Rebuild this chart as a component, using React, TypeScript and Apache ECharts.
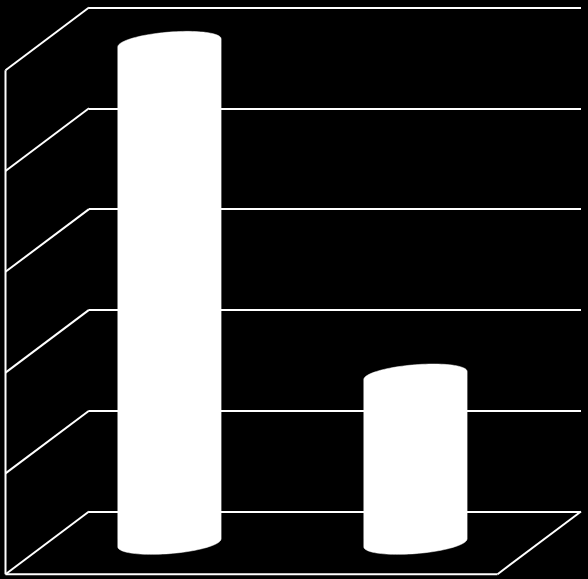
import React, { useEffect, useRef } from "react";
import * as echarts from "echarts";

const categories = ["A", "B"];
const values = [4.96, 1.66];
const axisMin = 0;
const axisMax = 5;
const axisStep = 1;
const wallTicks = [0, 1, 2, 3, 4, 5];

const WHITE = "#ffffff";
const DEPTH_X = -83.5;
const DEPTH_Y = 62.7;
const LINE_W = 2;

function ellipsePoints(cx: number, cy: number, a: number, A: number, B: number, from: number, to: number) {
  const pts: number[][] = [];
  const n = 48;
  for (let i = 0; i <= n; i++) {
    const t = from + ((to - from) * i) / n;
    pts.push([cx + a * Math.cos(t), cy - A * Math.cos(t) - B * Math.sin(t)]);
  }
  return pts;
}

const renderFrame = (params: any, api: any) => {
  const v = api.value(0);
  const cs = params.coordSys;
  const p = api.coord([0, v]);
  const x0 = cs.x;
  const children: any[] = [
    {
      type: "line",
      shape: { x1: x0, y1: p[1], x2: x0 + DEPTH_X, y2: p[1] + DEPTH_Y },
      style: { stroke: WHITE, lineWidth: LINE_W },
    },
  ];
  if (v === axisMin) {
    const xr = cs.x + cs.width;
    const fy = p[1] + DEPTH_Y;
    children.push(
      { type: "line", shape: { x1: xr, y1: p[1], x2: xr + DEPTH_X, y2: fy }, style: { stroke: WHITE, lineWidth: LINE_W } },
      { type: "line", shape: { x1: x0 + DEPTH_X, y1: fy, x2: xr + DEPTH_X, y2: fy }, style: { stroke: WHITE, lineWidth: LINE_W } },
      { type: "line", shape: { x1: x0 + DEPTH_X, y1: fy, x2: x0 + DEPTH_X, y2: cs.y + DEPTH_Y }, style: { stroke: WHITE, lineWidth: LINE_W } }
    );
  }
  return { type: "group", children };
};

const renderBar = (_params: any, api: any) => {
  const top = api.coord([api.value(0), api.value(1)]);
  const base = api.coord([api.value(0), 0]);
  const a = api.size([1, 0])[0] * 0.21;
  const A = 4;
  const B = 10.8;
  const cx = top[0] + DEPTH_X / 2 - 0.8;
  const upper = ellipsePoints(cx, top[1] + DEPTH_Y / 2, a, A, B, 0, Math.PI);
  const lower = ellipsePoints(cx, base[1] + DEPTH_Y / 2, a, A, B, Math.PI, 2 * Math.PI);
  return {
    type: "polygon",
    shape: { points: upper.concat(lower) },
    style: { fill: WHITE, stroke: WHITE, lineWidth: 0.5 },
  };
};

export default function App() {
  const ref = useRef<HTMLDivElement>(null);
  useEffect(() => {
    document.body.style.margin = "0";
    document.body.style.background = "#000";
    const chart = echarts.init(ref.current!, undefined, { renderer: "svg" });
    chart.setOption({
      animation: false,
      backgroundColor: "#000000",
      grid: { left: 89, top: 7.5, width: 492, height: 504, containLabel: false },
      xAxis: {
        type: "category",
        data: categories,
        axisLine: { show: false },
        axisTick: { show: false },
        axisLabel: { show: false },
      },
      yAxis: {
        type: "value",
        min: axisMin,
        max: axisMax,
        interval: axisStep,
        axisLine: { show: false },
        axisTick: { show: false },
        axisLabel: { show: false },
        splitLine: { show: true, lineStyle: { color: WHITE, width: LINE_W } },
      },
      series: [
        {
          type: "custom",
          silent: true,
          z: 1,
          renderItem: renderFrame,
          encode: { y: 0 },
          data: wallTicks.map((v) => [v]),
        },
        {
          type: "custom",
          silent: true,
          z: 3,
          renderItem: renderBar,
          encode: { x: 0, y: 1 },
          data: values.map((v, i) => [i, v]),
        },
      ],
    });
    return () => chart.dispose();
  }, []);
  return <div ref={ref} style={{ position: "absolute", left: 0, top: 0, width: 588, height: 579 }} />;
}
